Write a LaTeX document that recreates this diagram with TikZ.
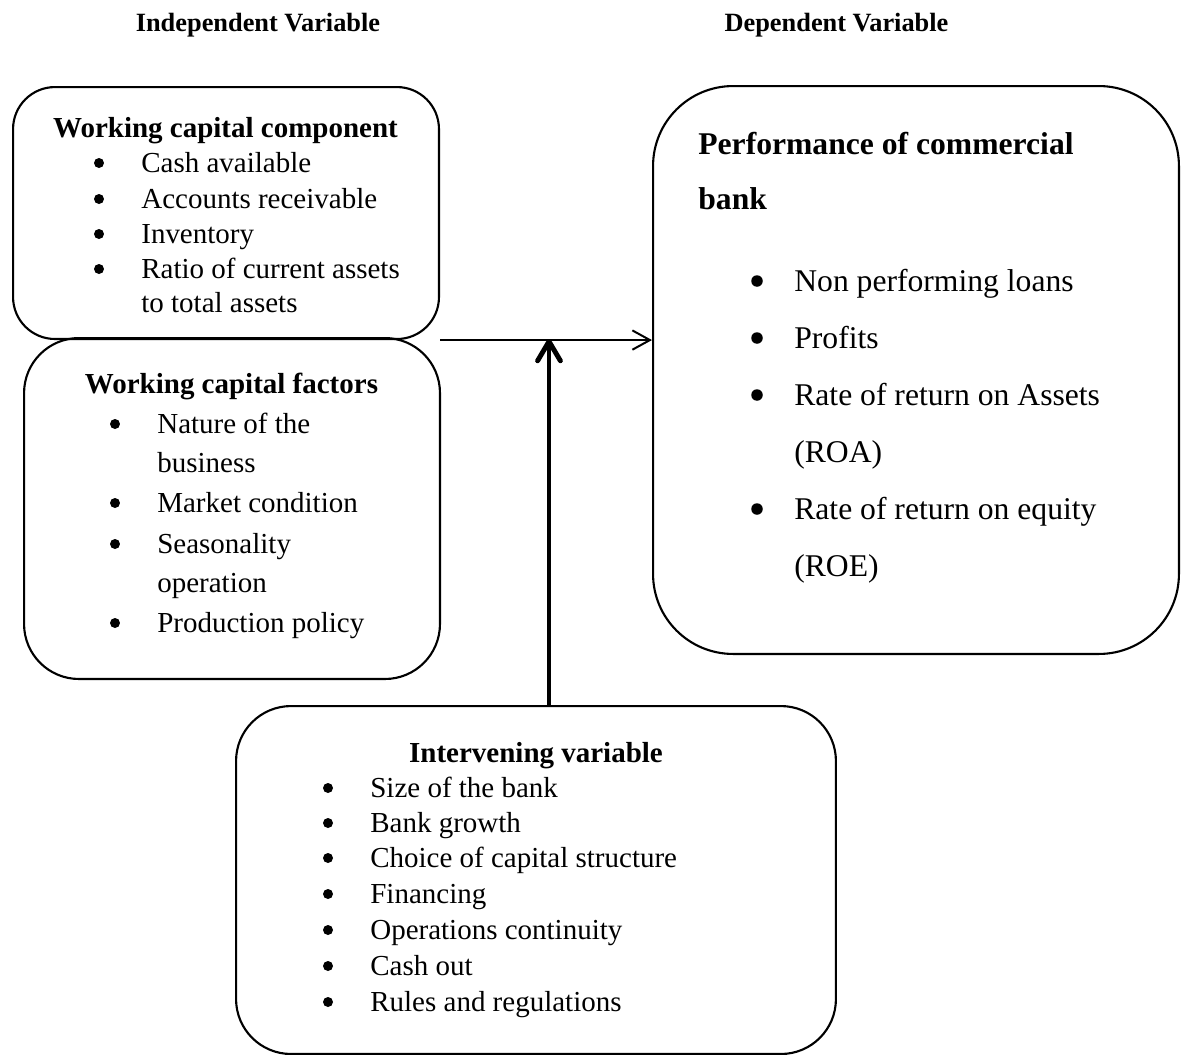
\documentclass[tikz,border=0pt]{standalone}
\usepackage{fontspec}
\setmainfont{Liberation Serif}
\usetikzlibrary{arrows.meta}
\begin{document}
\begin{tikzpicture}[x=0.02cm,y=-0.02cm,
  box/.style={draw, line width=1.2pt, inner sep=0pt, anchor=north west},
  txt/.style={anchor=base west, inner sep=0pt, font=\fontsize{16.5}{20}\selectfont},
  ttl/.style={anchor=base, inner sep=0pt, font=\fontsize{16.5}{20}\selectfont\bfseries},
  bul/.style={circle, fill, inner sep=0pt, minimum size=0.2cm},
  bigtxt/.style={anchor=base west, inner sep=0pt, font=\fontsize{18}{22}\selectfont},
  bigttl/.style={anchor=base west, inner sep=0pt, font=\fontsize{18}{22}\selectfont\bfseries},
  bigbul/.style={circle, fill, inner sep=0pt, minimum size=0.23cm},
  hdr/.style={anchor=base, inner sep=0pt, font=\fontsize{15}{18}\selectfont\bfseries},
  conn/.style={line width=1.13pt, -{Straight Barb[length=10pt,width=11pt]}},
  thickconn/.style={line width=2.8pt, -{Straight Barb[length=11pt,width=13pt,round]}}
]
\useasboundingbox (0,0) rectangle (1181,1055);

% headers
\node[hdr] (hind) at (258,31) {Independent Variable};
\node[hdr] (hdep) at (836.5,31) {Dependent Variable};

% boxes
\node[box, rounded corners=0.84cm, minimum width=8.52cm, minimum height=5.04cm] (comp) at (12,86) {};
\node[box, rounded corners=1.1cm, minimum width=8.32cm, minimum height=6.82cm] (fact) at (23,337) {};
\node[box, rounded corners=1.6cm, minimum width=10.52cm, minimum height=11.36cm] (perf) at (652,85) {};
\node[box, rounded corners=1.1cm, minimum width=12.0cm, minimum height=6.96cm] (inter) at (235,705) {};

% box 1 text
\node[ttl] (c0) at (225.5,137) {Working capital component};
\node[bul] (cb1) at (99,163) {};
\node[txt] (c1) at (141,172) {Cash available};
\node[bul] (cb2) at (99,199) {};
\node[txt] (c2) at (141,208) {Accounts receivable};
\node[bul] (cb3) at (99,234) {};
\node[txt] (c3) at (141,243) {Inventory};
\node[bul] (cb4) at (99,269) {};
\node[txt] (c4) at (141,278) {Ratio of current assets};
\node[txt] (c5) at (141,312) {to total assets};

% box 2 text
\node[ttl] (f0) at (231.5,393) {Working capital factors};
\node[bul] (fb1) at (115,424) {};
\node[txt] (f1) at (157,433) {Nature of the};
\node[txt] (f2) at (157,472) {business};
\node[bul] (fb3) at (115,503) {};
\node[txt] (f3) at (157,512) {Market condition};
\node[bul] (fb4) at (115,544) {};
\node[txt] (f4) at (157,553) {Seasonality};
\node[txt] (f5) at (157,592) {operation};
\node[bul] (fb6) at (115,623) {};
\node[txt] (f6) at (157,632) {Production policy};

% box 3 text
\node[bigttl] (p0) at (698,154) {Performance of commercial};
\node[bigttl] (p0b) at (698,209) {bank};
\node[bigbul] (pb1) at (757,281) {};
\node[bigtxt] (p1) at (794,291) {Non performing loans};
\node[bigbul] (pb2) at (757,338) {};
\node[bigtxt] (p2) at (794,348) {Profits};
\node[bigbul] (pb3) at (757,395) {};
\node[bigtxt] (p3) at (794,405) {Rate of return on Assets};
\node[bigtxt] (p4) at (794,462) {(ROA)};
\node[bigbul] (pb5) at (757,509) {};
\node[bigtxt] (p5) at (794,519) {Rate of return on equity};
\node[bigtxt] (p6) at (794,576) {(ROE)};

% box 4 text
\node[ttl] (i0) at (536,762) {Intervening variable};
\node[bul] (ib1) at (328,788) {};
\node[txt] (i1) at (370,797) {Size of the bank};
\node[bul] (ib2) at (328,823) {};
\node[txt] (i2) at (370,832) {Bank growth};
\node[bul] (ib3) at (328,858) {};
\node[txt] (i3) at (370,867) {Choice of capital structure};
\node[bul] (ib4) at (328,894) {};
\node[txt] (i4) at (370,903) {Financing};
\node[bul] (ib5) at (328,930) {};
\node[txt] (i5) at (370,939) {Operations continuity};
\node[bul] (ib6) at (328,966) {};
\node[txt] (i6) at (370,975) {Cash out};
\node[bul] (ib7) at (328,1002) {};
\node[txt] (i7) at (370,1011) {Rules and regulations};

% connectors
\coordinate (j) at (549,339);
\draw[conn] (comp.south east) -- (comp.south east -| perf.west);
\draw[thickconn] (j |- inter.north) -- (j);
\end{tikzpicture}
\end{document}
